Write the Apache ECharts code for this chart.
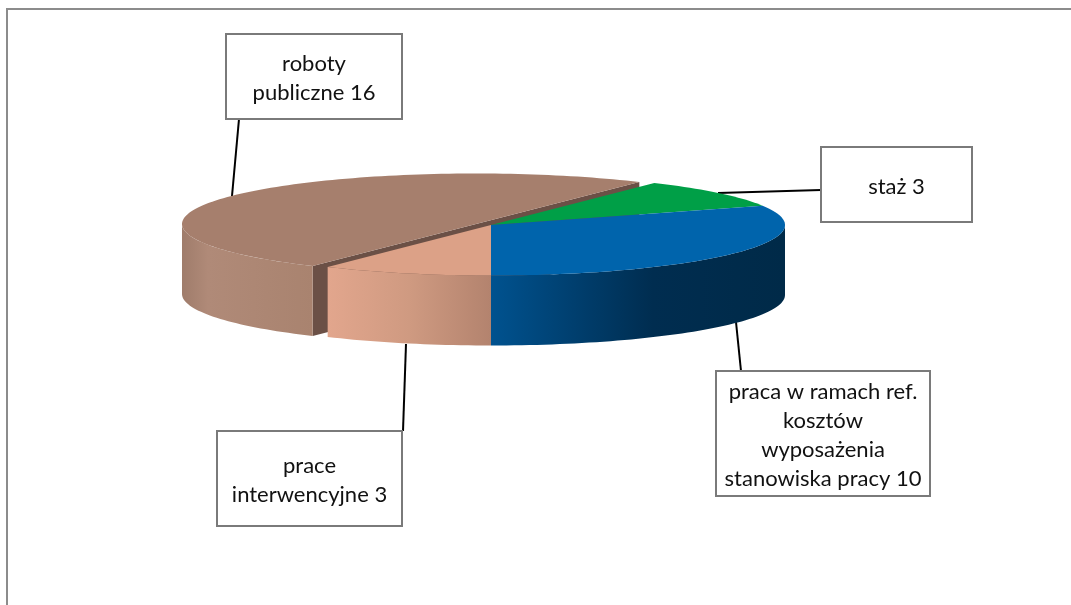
<!DOCTYPE html>
<html>
<head>
<meta charset="utf-8">
<style>
  html, body { margin: 0; padding: 0; background: #fff; }
  #chart { width: 1071px; height: 605px; }
</style>
<script src="https://cdn.jsdelivr.net/npm/echarts@6/dist/echarts.min.js"></script>
</head>
<body>
<div id="chart"></div>
<script>
const categories = ["staż", "praca w ramach ref.\nkosztów\nwyposażenia\nstanowiska pracy", "prace\ninterwencyjne", "roboty\npubliczne"]
const values = [3, 10, 3, 16]

const firstSliceAngle = 56.25 // degrees, ccw from east, slices run clockwise
const RX = 294
const RY = 50.5
const DEPTH = 70

const sliceStyles = [
  { center: [491, 225], top: "#009f47", wall: [[0, "#009f47"], [1, "#009f47"]] },
  { center: [491, 225], top: "#0064ac", wall: [[0, "#00528f"], [0.55, "#002d50"], [1, "#002a48"]] },
  { center: [491, 225], top: "#dca187", wall: [[0, "#e2a68d"], [0.5, "#cf9a81"], [1, "#b3836e"]] },
  { center: [476, 224], top: "#a67f6d", wall: [[0, "#9f7c6b"], [0.2, "#b08a78"], [1, "#a9836f"]], cut: "#6b5046" }
]

const labelBoxes = [
  { box: [821, 147, 151, 75], line: [718, 193, 821, 190] },
  { box: [716, 371, 214, 125], line: [736, 322, 741, 371] },
  { box: [217, 431, 185, 95], line: [406, 344, 403, 431] },
  { box: [226, 34, 176, 85], line: [239, 119, 232, 196] }
]

const total = values.reduce((a, b) => a + b, 0)
let acc = 0
const angles = values.map((v) => {
  const start = firstSliceAngle - (acc / total) * 360
  acc += v
  return [start, firstSliceAngle - (acc / total) * 360]
})

const toPoint = (c, deg, dy = 0) => {
  const r = (deg * Math.PI) / 180
  return [c[0] + RX * Math.cos(r), c[1] - RY * Math.sin(r) + dy]
}

const arcPoints = (c, a, b, dy = 0) => {
  const n = Math.max(2, Math.ceil(Math.abs(a - b) / 1.5))
  const pts = []
  for (let i = 0; i <= n; i++) {
    pts.push(toPoint(c, a + ((b - a) * i) / n, dy))
  }
  return pts
}

// draw back to front: the exploded slice goes first, everything else sits on it
const drawOrder = [3, 0, 1, 2]

const renderSlice = (params, api) => {
  const i = api.value(0)
  const [a, b] = angles[i]
  const s = sliceStyles[i]
  const c = s.center
  const children = []

  // the side facing us where the slice was pulled out
  if (s.cut) {
    const p = toPoint(c, a)
    const q = toPoint(c, b)
    children.push({
      type: "polygon",
      shape: { points: [p, q, [q[0], q[1] + DEPTH], [p[0], p[1] + DEPTH]] },
      style: { fill: s.cut }
    })
  }

  // outer wall: only the part of the rim on the front half of the ellipse
  const from = Math.min(a, 0)
  const to = Math.max(b, -180)
  if (from > to) {
    children.push({
      type: "polygon",
      shape: { points: arcPoints(c, from, to).concat(arcPoints(c, to, from, DEPTH)) },
      style: {
        fill: new echarts.graphic.LinearGradient(0, 0, 1, 0, s.wall.map((w) => ({ offset: w[0], color: w[1] })))
      }
    })
  }

  children.push({
    type: "polygon",
    shape: { points: [c].concat(arcPoints(c, a, b)) },
    style: { fill: s.top }
  })

  return { type: "group", children }
}

const labelGraphics = []
labelBoxes.forEach((l, i) => {
  labelGraphics.push({
    type: "line",
    z: 1,
    shape: { x1: l.line[0], y1: l.line[1], x2: l.line[2], y2: l.line[3] },
    style: { stroke: "#000", lineWidth: 2 }
  })
  labelGraphics.push({
    type: "rect",
    z: 5,
    shape: { x: l.box[0], y: l.box[1], width: l.box[2], height: l.box[3] },
    style: { fill: "#fff", stroke: "#7a7a7a", lineWidth: 2 }
  })
  labelGraphics.push({
    type: "text",
    z: 6,
    x: l.box[0] + l.box[2] / 2,
    y: l.box[1] + l.box[3] / 2 + 2,
    style: {
      text: categories[i] + " " + values[i],
      fill: "#111",
      font: "22px Lato, 'Open Sans', sans-serif",
      lineHeight: 29,
      align: "center",
      verticalAlign: "middle"
    }
  })
})

const chart = echarts.init(document.getElementById("chart"), null, { renderer: "canvas" })
chart.setOption({
  animation: false,
  backgroundColor: "#fff",
  graphic: {
    elements: [
      {
        type: "polyline",
        z: 0,
        shape: { points: [[7, 605], [7, 9], [1071, 9]] },
        style: { stroke: "#8c8c8c", fill: "none", lineWidth: 2 }
      }
    ].concat(labelGraphics)
  },
  series: [
    {
      type: "custom",
      coordinateSystem: "none",
      z: 3,
      silent: true,
      renderItem: renderSlice,
      data: drawOrder.map((i) => [i, values[i]]),
      encode: { value: 1 }
    }
  ]
})

window.addEventListener("resize", () => chart.resize())
</script>
</body>
</html>
